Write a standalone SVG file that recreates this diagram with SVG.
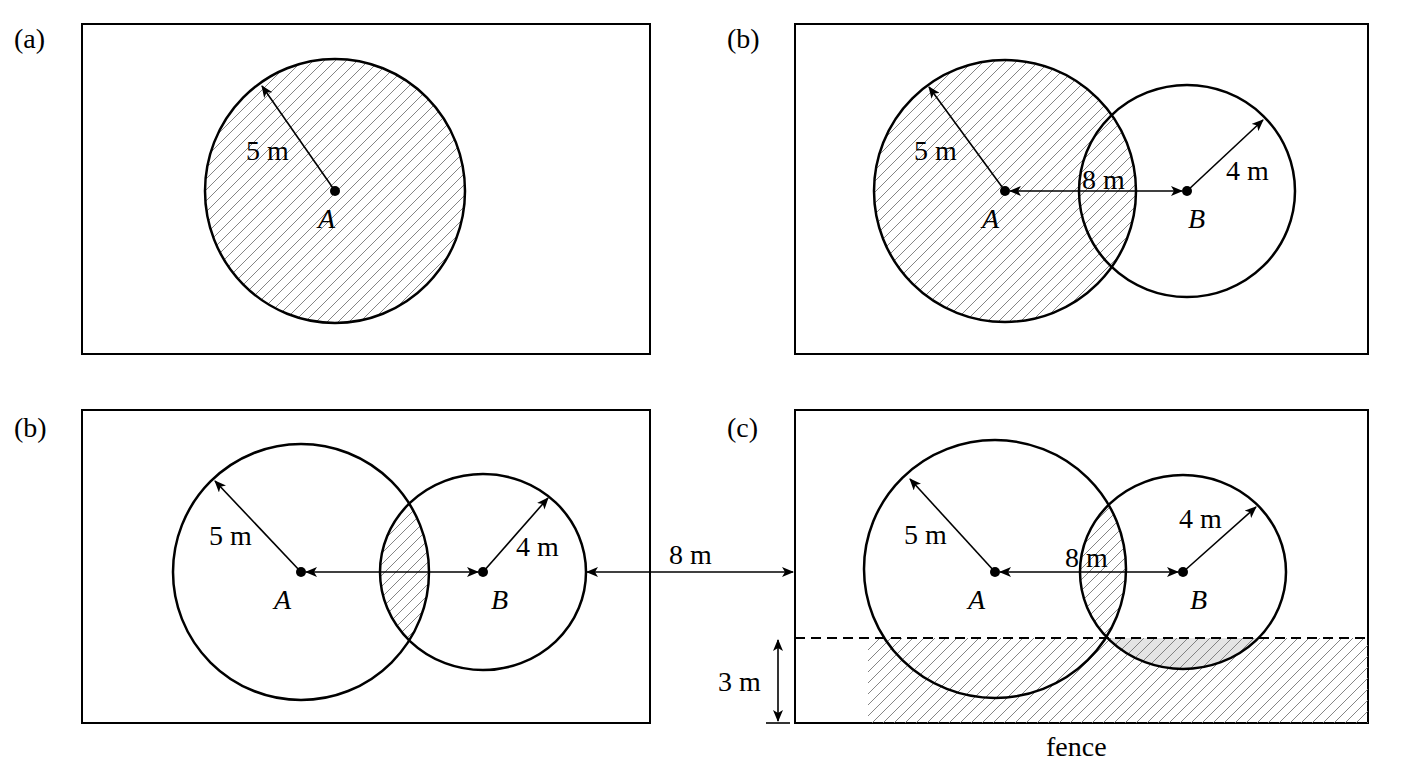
<svg xmlns="http://www.w3.org/2000/svg" width="1408" height="768" viewBox="0 0 1408 768">
<style>
.frame{fill:none;stroke:#000;stroke-width:2}
.c{fill:none;stroke:#000;stroke-width:2.5}
.ln{stroke:#000;stroke-width:1.6;fill:none}
text{font-family:"Liberation Serif","Times New Roman","DejaVu Serif",serif;font-size:28px;fill:#000}
.i{font-style:italic}
</style>
<defs>
<pattern id="h" patternUnits="userSpaceOnUse" width="11" height="11">
<path d="M-2,13 L13,-2 M-2,2 L2,-2 M9,13 L13,9" stroke="#777" stroke-width="0.9"/>
</pattern>
<marker id="ar" viewBox="0 0 12 10" refX="11" refY="5" markerWidth="12" markerHeight="10" markerUnits="userSpaceOnUse" orient="auto-start-reverse">
<path d="M0,0 L12,5 L0,10 L3,5 Z" fill="#000"/>
</marker>
<clipPath id="cb1"><ellipse cx="483" cy="572" rx="103" ry="98"/></clipPath>
<clipPath id="cb2"><ellipse cx="1183" cy="572" rx="103" ry="97"/></clipPath>
<clipPath id="band"><rect x="795" y="638" width="573" height="85"/></clipPath>
</defs>
<g id="labels">
<text x="14" y="48">(a)</text>
<text x="727" y="48">(b)</text>
<text x="14" y="437">(b)</text>
<text x="727" y="437">(c)</text>
</g>
<g id="panel-a">
<rect class="frame" x="82" y="24" width="568" height="330"/>
<ellipse cx="335" cy="191" rx="130" ry="132" fill="url(#h)"/>
<ellipse class="c" cx="335" cy="191" rx="130" ry="132"/>
<line class="ln" x1="335" y1="191" x2="262" y2="86" marker-end="url(#ar)"/>
<circle cx="335" cy="191" r="5"/>
<text x="246" y="160">5 m</text>
<text class="i" x="318" y="228">A</text>
</g>
<g id="panel-b1">
<rect class="frame" x="795" y="24" width="573" height="330"/>
<ellipse cx="1005" cy="191" rx="131" ry="131" fill="url(#h)"/>
<ellipse class="c" cx="1005" cy="191" rx="131" ry="131"/>
<ellipse class="c" cx="1187" cy="191" rx="108" ry="106"/>
<line class="ln" x1="1005" y1="191" x2="929" y2="87" marker-end="url(#ar)"/>
<line class="ln" x1="1187" y1="191" x2="1263" y2="120" marker-end="url(#ar)"/>
<line class="ln" x1="1010" y1="191" x2="1182" y2="191" marker-start="url(#ar)" marker-end="url(#ar)"/>
<circle cx="1005" cy="191" r="5"/><circle cx="1187" cy="191" r="5"/>
<text x="914" y="160">5 m</text>
<text x="1082" y="189">8 m</text>
<text x="1226" y="180">4 m</text>
<text class="i" x="982" y="228">A</text>
<text class="i" x="1188" y="228">B</text>
</g>
<g id="panel-b2">
<rect class="frame" x="82" y="410" width="568" height="313"/>
<ellipse cx="301" cy="572" rx="128" ry="128" fill="url(#h)" clip-path="url(#cb1)"/>
<ellipse class="c" cx="301" cy="572" rx="128" ry="128"/>
<ellipse class="c" cx="483" cy="572" rx="103" ry="98"/>
<line class="ln" x1="301" y1="572" x2="215" y2="481" marker-end="url(#ar)"/>
<line class="ln" x1="483" y1="572" x2="548" y2="498" marker-end="url(#ar)"/>
<line class="ln" x1="306" y1="572" x2="478" y2="572" marker-start="url(#ar)" marker-end="url(#ar)"/>
<circle cx="301" cy="572" r="5"/><circle cx="483" cy="572" r="5"/>
<text x="209" y="545">5 m</text>
<text x="516" y="556">4 m</text>
<text class="i" x="274" y="609">A</text>
<text class="i" x="491" y="609">B</text>
</g>
<g id="gap">
<line class="ln" x1="587" y1="572" x2="793" y2="572" marker-start="url(#ar)" marker-end="url(#ar)"/>
<text x="669" y="564">8 m</text>
</g>
<g id="panel-c">
<rect class="frame" x="795" y="410" width="573" height="313"/>
<ellipse cx="1183" cy="572" rx="103" ry="97" fill="#e4e4e4" clip-path="url(#band)"/>
<rect x="868" y="638" width="500" height="85" fill="url(#h)"/>
<ellipse cx="995" cy="569" rx="131" ry="129" fill="url(#h)" clip-path="url(#cb2)"/>
<ellipse class="c" cx="995" cy="569" rx="131" ry="129"/>
<ellipse class="c" cx="1183" cy="572" rx="103" ry="97"/>
<line x1="795" y1="638" x2="1368" y2="638" stroke="#000" stroke-width="2" stroke-dasharray="10,6"/>
<line class="ln" x1="995" y1="572" x2="910" y2="479" marker-end="url(#ar)"/>
<line class="ln" x1="1183" y1="572" x2="1256" y2="507" marker-end="url(#ar)"/>
<line class="ln" x1="1000" y1="572" x2="1178" y2="572" marker-start="url(#ar)" marker-end="url(#ar)"/>
<circle cx="995" cy="572" r="5"/><circle cx="1183" cy="572" r="5"/>
<text x="904" y="544">5 m</text>
<text x="1065" y="567">8 m</text>
<text x="1179" y="528">4 m</text>
<text class="i" x="968" y="609">A</text>
<text class="i" x="1190" y="609">B</text>
<line class="ln" x1="778" y1="640" x2="778" y2="721" marker-start="url(#ar)" marker-end="url(#ar)"/>
<line class="ln" x1="766" y1="723" x2="790" y2="723"/>
<text x="718" y="691">3 m</text>
<text x="1046" y="756">fence</text>
</g>
</svg>
